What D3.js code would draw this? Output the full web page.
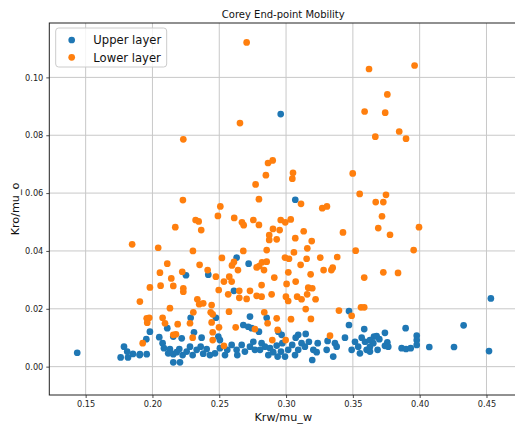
<!DOCTYPE html>
<html>
<head>
<meta charset="utf-8">
<script src="https://cdn.jsdelivr.net/npm/d3@7"></script>
<style>
  html, body { margin: 0; padding: 0; background: #fff; overflow: hidden; }
  svg { display: block; font-family: "DejaVu Sans", sans-serif; }
</style>
</head>
<body>
<svg id="chart" width="515" height="431"></svg>
<script>
// Corey end-point mobility: [Krw/mu_w, Kro/mu_o]
const upperLayer = [
  [0.2960,0.0873],[0.2630,0.0377],[0.2720,0.0356],[0.2251,0.0316],[0.2418,0.0318],
  [0.3069,0.0577],[0.2610,0.0262],[0.2286,0.0169],[0.2475,0.0169],[0.1981,0.0121],
  [0.2111,0.0133],[0.2311,0.0119],[0.2493,0.0104],[0.2680,0.0144],[0.2730,0.0173],
  [0.2717,0.0138],[0.2742,0.0133],[0.2051,0.0102],[0.2156,0.0104],[0.2219,0.0098],
  [0.2368,0.0100],
  [0.2076,0.0081],[0.2086,0.0064],[0.2131,0.0061],[0.2118,0.0046],[0.2156,0.0043],
  [0.2181,0.0050],[0.2201,0.0061],[0.2226,0.0040],[0.2256,0.0052],[0.2281,0.0069],
  [0.2301,0.0040],[0.2331,0.0058],[0.2361,0.0069],[0.2380,0.0045],[0.2406,0.0061],
  [0.2430,0.0040],[0.2468,0.0046],[0.2505,0.0064],[0.2505,0.0092],[0.2543,0.0040],
  [0.2560,0.0058],[0.2593,0.0075],[0.2630,0.0058],[0.2635,0.0040],[0.2668,0.0075],
  [0.2692,0.0052],[0.2730,0.0069],[0.2755,0.0086],[0.2767,0.0058],[0.2156,0.0015],
  [0.2206,0.0015],[0.1957,0.0043],[0.1906,0.0043],
  [0.1437,0.0048],[0.1762,0.0032],[0.1787,0.0069],[0.1811,0.0052],[0.1817,0.0032],
  [0.1854,0.0044],[0.1904,0.0040],[0.1954,0.0095],
  [0.2855,0.0169],[0.3471,0.0192],[0.3471,0.0144],[0.3585,0.0130],[0.2797,0.0121],
  [0.2942,0.0121],[0.2967,0.0110],[0.3091,0.0110],[0.3147,0.0113],[0.3072,0.0100],
  [0.3441,0.0100],[0.3311,0.0089],[0.3366,0.0081],[0.3516,0.0086],[0.3566,0.0100],
  [0.3591,0.0086],[0.3658,0.0104],
  [0.2817,0.0081],[0.2842,0.0069],[0.2805,0.0058],[0.2880,0.0064],[0.2867,0.0040],
  [0.2904,0.0050],[0.2930,0.0073],[0.2937,0.0035],[0.2962,0.0052],[0.2972,0.0081],
  [0.2992,0.0035],[0.3016,0.0058],[0.3046,0.0075],[0.3067,0.0040],[0.3091,0.0058],
  [0.3116,0.0081],[0.3141,0.0069],[0.3171,0.0086],[0.3196,0.0023],[0.3204,0.0058],
  [0.3237,0.0081],[0.3229,0.0050],[0.3304,0.0058],[0.3353,0.0035],[0.3379,0.0069],
  [0.3491,0.0058],[0.3540,0.0069],[0.3553,0.0046],[0.3603,0.0058],[0.3628,0.0069],
  [0.3653,0.0081],
  [0.4533,0.0236],[0.4329,0.0143],[0.3895,0.0133],[0.3740,0.0117],[0.3678,0.0106],
  [0.3698,0.0095],[0.3628,0.0092],[0.3978,0.0107],[0.3978,0.0092],[0.3978,0.0075],
  [0.3758,0.0084],[0.3740,0.0072],[0.3765,0.0069],[0.3685,0.0058],[0.3628,0.0052],
  [0.3865,0.0064],[0.3898,0.0061],[0.3933,0.0064],[0.4072,0.0068],[0.4257,0.0068],
  [0.4519,0.0054]
];

const lowerLayer = [
  [0.2705,0.1121],[0.2655,0.0842],[0.2231,0.0786],[0.2900,0.0713],[0.2865,0.0704],
  [0.3621,0.1029],[0.3962,0.1041],[0.3758,0.0941],[0.3588,0.0882],[0.3742,0.0878],
  [0.3847,0.0813],[0.3668,0.0795],[0.3898,0.0788],
  [0.2849,0.0662],[0.2772,0.0630],[0.2797,0.0579],[0.2228,0.0576],[0.2508,0.0554],
  [0.2490,0.0521],[0.2323,0.0507],[0.2346,0.0502],[0.2612,0.0514],[0.2670,0.0499],
  [0.2683,0.0489],[0.2755,0.0507],[0.2797,0.0490],[0.2171,0.0482],[0.2365,0.0472],
  [0.2874,0.0455],[0.2874,0.0438],[0.2043,0.0411],[0.2303,0.0400],[0.2680,0.0400],
  [0.2855,0.0403],[0.2520,0.0376],[0.2111,0.0356],[0.2353,0.0352],[0.2595,0.0350],
  [0.2610,0.0362],[0.2799,0.0348],[0.2820,0.0361],[0.2780,0.0343],[0.2855,0.0363],
  [0.2835,0.0334],[0.2640,0.0334],[0.2056,0.0325],[0.2223,0.0328],[0.2413,0.0334],
  [0.2475,0.0311],[0.2575,0.0311],[0.2141,0.0305],
  [0.3052,0.0670],[0.3047,0.0650],[0.3499,0.0668],[0.3551,0.0597],[0.3748,0.0594],
  [0.3671,0.0569],[0.3728,0.0569],[0.3112,0.0563],[0.3271,0.0548],[0.3306,0.0554],
  [0.3718,0.0520],[0.3690,0.0479],[0.3778,0.0456],[0.2960,0.0507],[0.2994,0.0499],
  [0.3035,0.0509],[0.2902,0.0476],[0.2952,0.0472],[0.3132,0.0468],[0.3426,0.0464],
  [0.2930,0.0440],[0.3069,0.0444],[0.3192,0.0434],[0.3159,0.0409],[0.3059,0.0395],
  [0.3521,0.0401],[0.2992,0.0377],[0.3022,0.0373],[0.3154,0.0373],[0.3256,0.0377],
  [0.3383,0.0379],[0.3109,0.0352],[0.3281,0.0334],[0.3339,0.0334],[0.3349,0.0342],
  [0.3017,0.0326],[0.3184,0.0319],[0.3728,0.0326],[0.2912,0.0308],[0.3585,0.0308],
  [0.3995,0.0482],[0.3955,0.0403],[0.3838,0.0324],[0.1848,0.0423],
  [0.2535,0.0294],[0.2593,0.0294],[0.1981,0.0274],[0.2061,0.0280],[0.2156,0.0279],
  [0.2231,0.0271],[0.2231,0.0259],[0.2496,0.0265],[0.2567,0.0250],[0.2650,0.0262],
  [0.2730,0.0262],[0.2650,0.0238],[0.2705,0.0234],[0.2780,0.0245],[0.1906,0.0225],
  [0.2336,0.0233],[0.2350,0.0216],[0.2380,0.0219],[0.2443,0.0213],[0.2131,0.0202],
  [0.2306,0.0188],[0.2436,0.0188],[0.2451,0.0181],[0.2573,0.0190],[0.1957,0.0167],
  [0.1976,0.0169],[0.2076,0.0169],[0.2094,0.0150],[0.2189,0.0147],[0.2281,0.0150],
  [0.2443,0.0153],[0.2498,0.0136],[0.2176,0.0112],[0.2156,0.0110],[0.2301,0.0100],
  [0.2451,0.0119],[0.2451,0.0092],[0.2623,0.0136],[0.2767,0.0130],[0.2535,0.0072],
  [0.1927,0.0081],[0.1961,0.0152],
  [0.3004,0.0286],[0.3072,0.0294],[0.3166,0.0273],[0.3196,0.0271],[0.2817,0.0282],
  [0.2892,0.0250],[0.2817,0.0242],[0.2999,0.0242],[0.3016,0.0227],[0.3083,0.0242],
  [0.3116,0.0233],[0.3158,0.0250],[0.3221,0.0233],[0.2837,0.0188],[0.3147,0.0199],
  [0.3396,0.0194],[0.3561,0.0205],[0.3585,0.0205],[0.3491,0.0176],[0.2930,0.0167],
  [0.3037,0.0164],[0.3186,0.0165],[0.2937,0.0127],[0.2862,0.0150],[0.3329,0.0107],
  [0.2897,0.0092],[0.2997,0.0092]
];

const xTicks = [0.15, 0.20, 0.25, 0.30, 0.35, 0.40, 0.45];
const yTicks = [0.00, 0.02, 0.04, 0.06, 0.08, 0.10];
const seriesNames = ["Upper layer", "Lower layer"];
const seriesColors = ["#1f77b4", "#ff7f0e"];
const chartTitle = "Corey End-point Mobility";
const xLabel = "Krw/mu_w";
const yLabel = "Kro/mu_o";

const plot = { left: 49.3, right: 517.2, top: 23, bottom: 395 };
const svg = d3.select("#chart");

const x = d3.scaleLinear().domain([0.1228, 0.4730]).range([plot.left, plot.right]);
const y = d3.scaleLinear().domain([-0.0098, 0.1188]).range([plot.bottom, plot.top]);

// grid
const grid = svg.append("g").attr("stroke", "#c8c8c8").attr("stroke-width", 1);
grid.selectAll("line.gx").data(xTicks).join("line")
  .attr("x1", d => x(d)).attr("x2", d => x(d))
  .attr("y1", plot.top).attr("y2", plot.bottom);
grid.selectAll("line.gy").data(yTicks).join("line")
  .attr("y1", d => y(d)).attr("y2", d => y(d))
  .attr("x1", plot.left).attr("x2", plot.right);

// points: upper layer first, lower layer drawn on top
const pts = svg.append("g");
[upperLayer, lowerLayer].forEach((series, i) => {
  pts.append("g").selectAll("circle").data(series).join("circle")
    .attr("cx", d => x(d[0])).attr("cy", d => y(d[1]))
    .attr("r", 3.35).attr("fill", seriesColors[i]);
});

// axes
const xAxis = d3.axisBottom(x).tickValues(xTicks).tickFormat(d3.format(".2f"))
  .tickSizeOuter(0).tickSizeInner(3).tickPadding(3);
const yAxis = d3.axisLeft(y).tickValues(yTicks).tickFormat(d3.format(".2f"))
  .tickSizeOuter(0).tickSizeInner(3).tickPadding(3);

const gx = svg.append("g").attr("transform", `translate(0,${plot.bottom})`).call(xAxis);
const gy = svg.append("g").attr("transform", `translate(${plot.left},0)`).call(yAxis);
[gx, gy].forEach(g => {
  g.select(".domain").remove();
  g.selectAll(".tick line").attr("stroke", "#222").attr("stroke-width", 0.8);
  g.selectAll(".tick text").attr("fill", "#222")
    .style("font-family", "DejaVu Sans").style("font-size", "8.2px");
});

// frame
svg.append("rect")
  .attr("x", plot.left).attr("y", plot.top)
  .attr("width", plot.right - plot.left).attr("height", plot.bottom - plot.top)
  .attr("fill", "none").attr("stroke", "#222").attr("stroke-width", 1);

// title and axis labels
svg.append("text").attr("x", (plot.left + plot.right) / 2).attr("y", 17.5)
  .attr("text-anchor", "middle").style("font-size", "10px").attr("fill", "#111")
  .text(chartTitle);
svg.append("text").attr("x", (plot.left + plot.right) / 2).attr("y", 421)
  .attr("text-anchor", "middle").style("font-size", "11.2px").attr("fill", "#111")
  .text(xLabel);
svg.append("text")
  .attr("transform", `translate(19,${(plot.top + plot.bottom) / 2}) rotate(-90)`)
  .attr("text-anchor", "middle").style("font-size", "11.2px").attr("fill", "#111")
  .text(yLabel);

// legend
const legend = svg.append("g");
legend.append("rect").attr("x", 55.7).attr("y", 28).attr("width", 111).attr("height", 39)
  .attr("rx", 3).attr("fill", "#fff").attr("fill-opacity", 0.8)
  .attr("stroke", "#cccccc").attr("stroke-width", 1);
seriesNames.forEach((name, i) => {
  const cy = 40 + i * 17.3;
  legend.append("circle").attr("cx", 71.7).attr("cy", cy).attr("r", 3.35)
    .attr("fill", seriesColors[i]);
  legend.append("text").attr("x", 93.3).attr("y", cy + 4.2)
    .style("font-size", "11.6px").attr("fill", "#111").text(name);
});
</script>
</body>
</html>
